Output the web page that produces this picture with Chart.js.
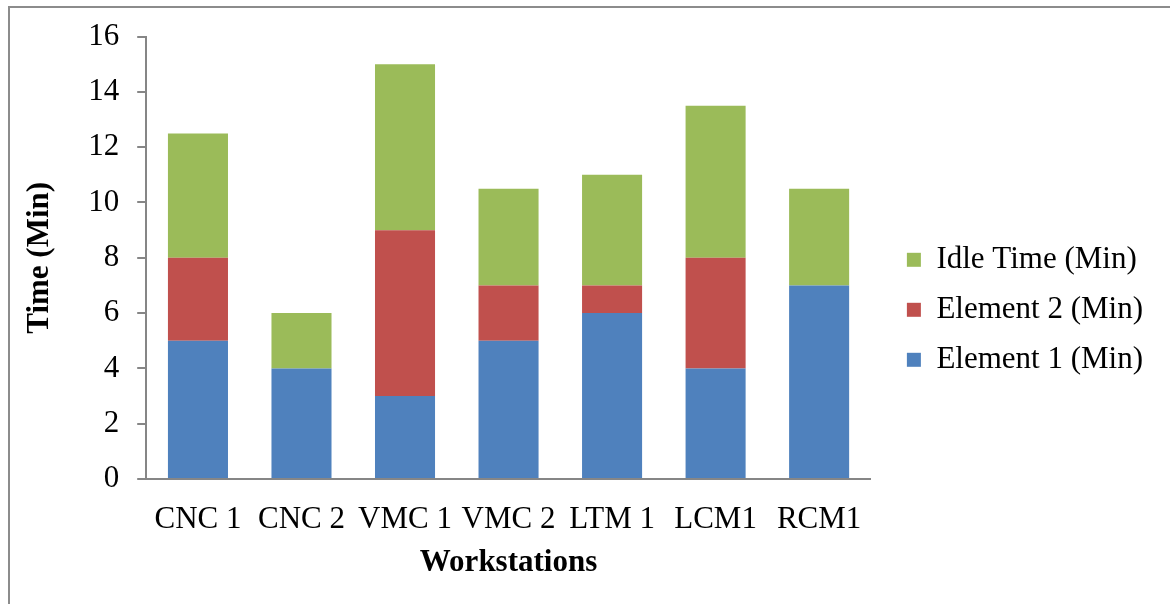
<!DOCTYPE html>
<html>
<head>
<meta charset="utf-8">
<script src="https://cdn.jsdelivr.net/npm/chart.js@4.4.1/dist/chart.umd.min.js"></script>
<style>
  html, body { margin: 0; padding: 0; background: #fff; }
  #wrap { position: relative; width: 1170px; height: 604px; }
  #frame { position: absolute; left: 8px; top: 6px; right: 0; bottom: 0;
           border-left: 2px solid #8c8c8c; border-top: 2px solid #8c8c8c; pointer-events: none; }
  canvas { position: absolute; left: 0; top: 0; }
</style>
</head>
<body>
<div id="wrap">
  <canvas id="chart" width="1170" height="604"></canvas>
  <div id="frame"></div>
</div>
<script>
// Workstations and time components (minutes)
const workstations = ['CNC 1', 'CNC 2', 'VMC 1', 'VMC 2', 'LTM 1', 'LCM1', 'RCM1'];
const element1 = [5, 4, 3, 5, 6, 4, 7];
const element2 = [3, 0, 6, 2, 1, 4, 0];
const idleTime = [4.5, 2, 6, 3.5, 4, 5.5, 3.5];
const yTicks = [0, 2, 4, 6, 8, 10, 12, 14, 16];

const serif = "'Liberation Serif', 'Times New Roman', serif";
const axisGray = '#868686';

// nudges the right-hand legend horizontally after layout
const legendShift = {
  id: 'legendShift',
  afterLayout(chart, args, opts) {
    const lg = chart.legend;
    if (lg) { lg.left += opts.dx; lg.right += opts.dx; }
  }
};

new Chart(document.getElementById('chart'), {
  type: 'bar',
  data: {
    labels: workstations,
    datasets: [
      { label: 'Element 1 (Min)', data: element1, backgroundColor: '#4F81BD' },
      { label: 'Element 2 (Min)', data: element2, backgroundColor: '#C0504D' },
      { label: 'Idle Time (Min)', data: idleTime, backgroundColor: '#9BBB59' }
    ]
  },
  plugins: [legendShift],
  options: {
    responsive: false,
    animation: false,
    devicePixelRatio: 1,
    layout: { padding: { top: 22, right: 34, left: 17, bottom: 16 } },
    datasets: { bar: { categoryPercentage: 1, barPercentage: 0.58, borderWidth: 0 } },
    plugins: {
      tooltip: { enabled: false },
      legendShift: { dx: 17 },
      legend: {
        position: 'right',
        align: 'center',
        reverse: true,
        title: { display: true, text: '', font: { size: 8 }, padding: { top: 0, bottom: 0 } },
        labels: {
          boxWidth: 14, boxHeight: 14, padding: 19,
          color: '#000',
          font: { family: serif, size: 31 }
        }
      }
    },
    scales: {
      x: {
        stacked: true,
        grid: { display: false, drawTicks: false },
        border: { display: true, color: axisGray, width: 2 },
        ticks: { color: '#000', font: { family: serif, size: 31, lineHeight: 1 }, padding: 25 },
        title: { display: true, text: 'Workstations', color: '#000',
                 font: { family: serif, size: 31, weight: 'bold', lineHeight: 1 }, padding: { top: -13, bottom: 10 } }
      },
      y: {
        stacked: true,
        min: 0, max: 16,
        afterBuildTicks: (axis) => { axis.ticks = yTicks.map(v => ({ value: v })); },
        grid: { drawOnChartArea: false, drawTicks: true, tickLength: 9, color: axisGray, lineWidth: 2 },
        border: { display: true, color: axisGray, width: 2 },
        ticks: { color: '#000', font: { family: serif, size: 31 }, padding: 18 },
        title: { display: true, text: 'Time (Min)', color: '#000',
                 font: { family: serif, size: 31, weight: 'bold' }, padding: { top: 4, bottom: 12 } }
      }
    }
  }
});
</script>
</body>
</html>
